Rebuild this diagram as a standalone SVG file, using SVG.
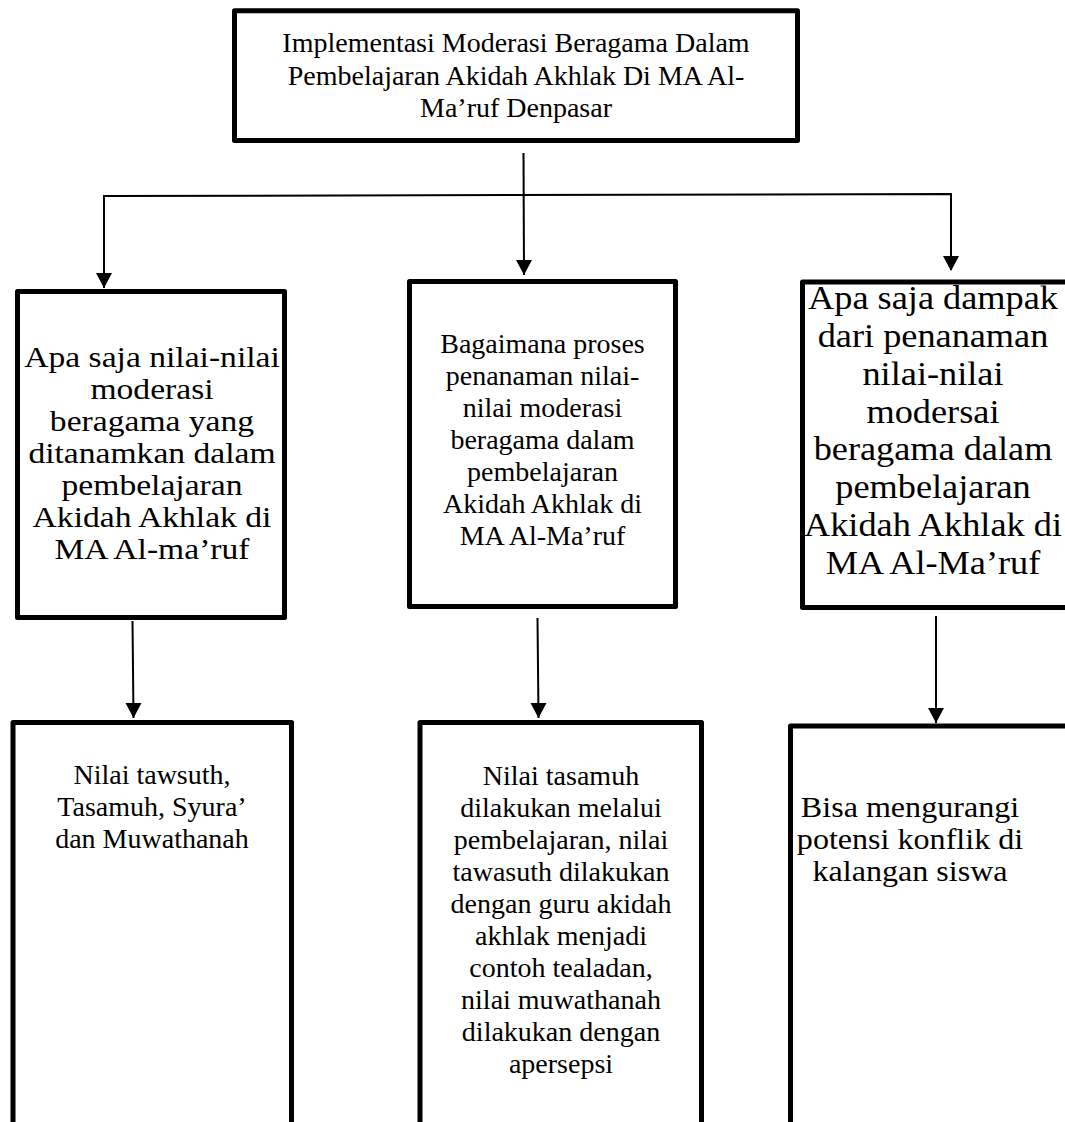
<svg xmlns="http://www.w3.org/2000/svg" width="1065" height="1122" viewBox="0 0 1065 1122">
<style>
.box{fill:#fff;stroke:#000;stroke-width:5;stroke-linejoin:round}
.t{font-family:"Liberation Serif","Times New Roman",serif;font-size:28px;fill:#000;text-anchor:middle}
.c{fill:none;stroke:#000;stroke-width:2}
</style>
<rect width="1065" height="1122" fill="#fff"/>
<g id="connectors">
<path class="c" d="M104,288 L104,196 L951,194 L951,270"/>
<path class="c" d="M523.5,153 L524,275"/>
<path class="c" d="M132.5,621 L133.5,718"/>
<path class="c" d="M537.5,618 L538.5,718"/>
<path class="c" d="M936,616 L936,723"/>
<path d="M96,273 L112,273 L104,288 Z"/>
<path d="M516,260 L532,260 L524,275 Z"/>
<path d="M943,256 L959,256 L951,271 Z"/>
<path d="M125.5,703 L141.5,703 L133.5,718 Z"/>
<path d="M530.5,703 L546.5,703 L538.5,718 Z"/>
<path d="M928,708 L944,708 L936,723 Z"/>
</g>
<g id="top">
<rect class="box" x="234.5" y="10.8" width="563" height="129.7"/>
<text class="t" x="516" y="52">Implementasi Moderasi Beragama Dalam</text>
<text class="t" x="516" y="85">Pembelajaran Akidah Akhlak Di MA Al-</text>
<text class="t" x="516" y="117">Ma’ruf Denpasar</text>
</g>
<g id="q1">
<rect class="box" x="17.5" y="291.5" width="267" height="326"/>
<text class="t" style="font-size:30px" transform="translate(152 0) scale(1.12 1)"><tspan x="0" y="367">Apa saja nilai-nilai</tspan><tspan x="0" y="399">moderasi</tspan><tspan x="0" y="431">beragama yang</tspan><tspan x="0" y="463">ditanamkan dalam</tspan><tspan x="0" y="495">pembelajaran</tspan><tspan x="0" y="527">Akidah Akhlak di</tspan><tspan x="0" y="559">MA Al-ma’ruf</tspan></text>
</g>
<g id="q2">
<rect class="box" x="409.5" y="281.5" width="266" height="325"/>
<text class="t"><tspan x="542.5" y="353">Bagaimana proses</tspan><tspan x="542.5" y="385">penanaman nilai-</tspan><tspan x="542.5" y="417">nilai moderasi</tspan><tspan x="542.5" y="449">beragama dalam</tspan><tspan x="542.5" y="481">pembelajaran</tspan><tspan x="542.5" y="513">Akidah Akhlak di</tspan><tspan x="542.5" y="545">MA Al-Ma’ruf</tspan></text>
</g>
<g id="q3">
<rect class="box" x="802.5" y="282" width="300" height="325.5"/>
<text class="t" style="font-size:33px" transform="translate(933 0) scale(1.1 1)"><tspan x="0" y="309">Apa saja dampak</tspan><tspan x="0" y="347">dari penanaman</tspan><tspan x="0" y="385">nilai-nilai</tspan><tspan x="0" y="423">modersai</tspan><tspan x="0" y="460">beragama dalam</tspan><tspan x="0" y="498">pembelajaran</tspan><tspan x="0" y="536">Akidah Akhlak di</tspan><tspan x="0" y="574">MA Al-Ma’ruf</tspan></text>
</g>
<g id="a1">
<rect class="box" x="13" y="722.5" width="278.5" height="450"/>
<text class="t"><tspan x="152" y="784">Nilai tawsuth,</tspan><tspan x="152" y="816">Tasamuh, Syura’</tspan><tspan x="152" y="848">dan Muwathanah</tspan></text>
</g>
<g id="a2">
<rect class="box" x="420" y="722.5" width="281.5" height="450"/>
<text class="t"><tspan x="561" y="785">Nilai tasamuh</tspan><tspan x="561" y="817">dilakukan melalui</tspan><tspan x="561" y="849">pembelajaran, nilai</tspan><tspan x="561" y="881">tawasuth dilakukan</tspan><tspan x="561" y="913">dengan guru akidah</tspan><tspan x="561" y="945">akhlak menjadi</tspan><tspan x="561" y="977">contoh tealadan,</tspan><tspan x="561" y="1009">nilai muwathanah</tspan><tspan x="561" y="1041">dilakukan dengan</tspan><tspan x="561" y="1073">apersepsi</tspan></text>
</g>
<g id="a3">
<rect class="box" x="790.5" y="726" width="320" height="450"/>
<text class="t" style="font-size:30px" transform="translate(910 0) scale(1.07 1)"><tspan x="0" y="817">Bisa mengurangi</tspan><tspan x="0" y="849">potensi konflik di</tspan><tspan x="0" y="881">kalangan siswa</tspan></text>
</g>
</svg>
